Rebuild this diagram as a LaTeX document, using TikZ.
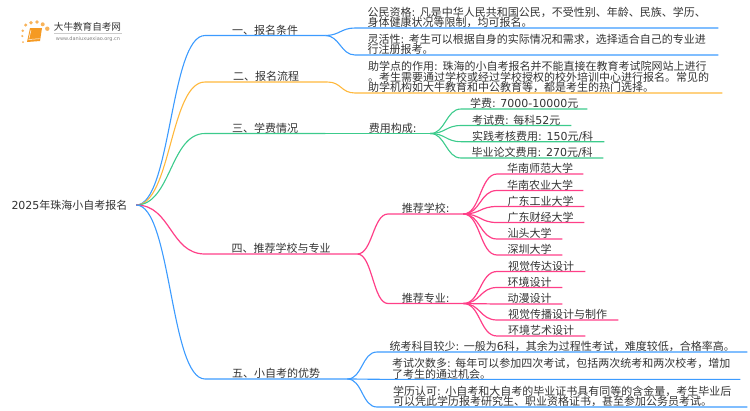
\documentclass[tikz,border=0pt]{standalone}
\usepackage{fontspec}
\setmainfont{Noto Sans CJK SC}
\newfontfamily\en{DejaVu Sans}
\definecolor{txt}{HTML}{333333}
\definecolor{lblue}{HTML}{3C9BFF}
\definecolor{lorange}{HTML}{FFB83C}
\definecolor{lgreen}{HTML}{3CCB8C}
\definecolor{lpink}{HTML}{FF3F88}
\definecolor{logoc}{HTML}{F59A23}
\tikzset{
  topic/.style={anchor=south west,inner xsep=0pt,inner ysep=1pt,text depth=0pt,text=txt,font=\fontsize{11}{10.8}\selectfont,align=left,minimum width=#1},
  link/.style={out=0,in=180,distance=#1},
  blueline/.style={draw=lblue,line width=1.1pt},
  orangeline/.style={draw=lorange,line width=1.1pt},
  greenline/.style={draw=lgreen,line width=1.1pt},
  pinkline/.style={draw=lpink,line width=1.2pt},
}
\begin{document}
\begin{tikzpicture}[x=1pt,y=-1pt]
\useasboundingbox (0,0) rectangle (750,410);
% logo
\foreach \x/\y/\r in {25.7/25/1.7,31/22.7/1.9,37/22/1.9,42.7/24.3/2,47.3/28.7/2.2,22.7/30.7/1.4,22.3/36/1.2,23/42/1}
  \fill[logoc!75] (\x,\y) circle [radius=\r];
\fill[logoc] (30,28) -- (42,28) -- (40,41) -- (27,42) -- cycle;
\draw[white,line width=0.5pt] (28.5,39.5) -- (39.5,38.7);
\draw[white,line width=0.5pt] (31,30) -- (29,38.5);
\node[inner sep=0pt,text=txt,font=\fontsize{9.6}{10}\selectfont] (logoname) at (87.5,27) {大牛教育自考网};
\node[inner sep=0pt,text=gray,font=\en\fontsize{5}{6}\selectfont] (logourl) at (88,39) {www.daniuxuexiao.org.cn};
\draw[gray!40,line width=0.4pt] (54,33.3) -- (122,33.3);
% root
\node[inner xsep=0pt,minimum width=133pt,text=txt,font=\fontsize{11}{13}\selectfont] (root) at (69.5,205) {{\en 2025}年珠海小自考报名};
% first level
\node[topic=120pt] (cond) at (205,35.5) {一、报名条件};
\node[topic=122pt] (flow) at (205,82) {二、报名流程};
\node[topic=120pt] (fee) at (205,133.5) {三、学费情况};
\node[topic=152pt] (rec) at (205,254) {四、推荐学校与专业};
\node[topic=142pt] (adv) at (205,379) {五、小自考的优势};
% conditions
\node[topic=363pt] (citizen) at (355,28) {公民资格{\en: }凡是中华人民共和国公民，不受性别、年龄、民族、学历、\\身体健康状况等限制，均可报名。};
\node[topic=363pt] (flex) at (355,55) {灵活性{\en: }考生可以根据自身的实际情况和需求，选择适合自己的专业进\\行注册报考。};
\node[topic=367pt] (help) at (355,93) {助学点的作用{\en: }珠海的小自考报名并不能直接在教育考试院网站上进行\\。考生需要通过学校或经过学校授权的校外培训中心进行报名。常见的\\助学机构如大牛教育和中公教育等，都是考生的热门选择。};
% fees
\node[topic=75pt] (cost) at (355,133.5) {费用构成{\en:}};
\node[topic=126pt] (cost1) at (461,109) {学费{\en: 7000-10000}元};
\node[topic=110pt] (cost2) at (461,125.5) {考试费{\en: }每科{\en 52}元};
\node[topic=143pt] (cost3) at (461,141.7) {实践考核费用{\en: 150}元{\en/}科};
\node[topic=142pt] (cost4) at (461,158) {毕业论文费用{\en: 270}元{\en/}科};
% schools and majors
\node[topic=75pt] (school) at (388,214) {推荐学校{\en:}};
\node[topic=75pt] (major) at (388,303.5) {推荐专业{\en:}};
\node[topic=86pt] (s1) at (497,174) {华南师范大学};
\node[topic=86pt] (s2) at (497,190.5) {华南农业大学};
\node[topic=87pt] (s3) at (497,206.5) {广东工业大学};
\node[topic=87pt] (s4) at (497,222.5) {广东财经大学};
\node[topic=65pt] (s5) at (497,239) {汕头大学};
\node[topic=65pt] (s6) at (497,255) {深圳大学};
\node[topic=88pt] (m1) at (497,271.5) {视觉传达设计};
\node[topic=65pt] (m2) at (497,287.5) {环境设计};
\node[topic=65pt] (m3) at (497,304) {动漫设计};
\node[topic=121pt] (m4) at (497,320) {视觉传播设计与制作};
\node[topic=88pt] (m5) at (497,336) {环境艺术设计};
% advantages
\node[topic=370pt] (few) at (377,352) {统考科目较少{\en: }一般为{\en 6}科，其余为过程性考试，难度较低，合格率高。};
\node[topic=358pt] (twice) at (382,379.3) {考试次数多{\en: }每年可以参加四次考试，包括两次统考和两次校考，增加\\了考生的通过机会。};
\node[topic=370pt] (degree) at (377,407) {学历认可{\en: }小自考和大自考的毕业证书具有同等的含金量，考生毕业后\\可以凭此学历报考研究生、职业资格证书，甚至参加公务员考试。};
% connectors
\draw[blueline] (root.east) to[link=35pt] (cond.south west) -- (cond.south east);
\draw[orangeline] (root.east) to[link=35pt] (flow.south west) -- (flow.south east);
\draw[greenline] (root.east) to[link=35pt] (fee.south west) -- (fee.south east);
\draw[pinkline] (root.east) to[link=35pt] (rec.south west) -- (rec.south east);
\draw[blueline] (root.east) to[link=35pt] (adv.south west) -- (adv.south east);
\foreach \a in {citizen,flex}
  \draw[blueline] (cond.south east) to[link=14pt] (\a.south west) -- (\a.south east);
\draw[orangeline] (flow.south east) to[link=14pt] (help.south west) -- (help.south east);
\draw[greenline] (fee.south east) -- (cost.south west) -- (cost.south east);
\foreach \a in {cost1,cost2,cost3,cost4}
  \draw[greenline] (cost.south east) to[link=15pt] (\a.south west) -- (\a.south east);
\foreach \a in {school,major}
  \draw[pinkline] (rec.south east) to[link=15pt] (\a.south west) -- (\a.south east);
\foreach \a in {s1,s2,s3,s4,s5,s6}
  \draw[pinkline] (school.south east) to[link=17pt] (\a.south west) -- (\a.south east);
\foreach \a in {m1,m2,m3,m4,m5}
  \draw[pinkline] (major.south east) to[link=17pt] (\a.south west) -- (\a.south east);
\foreach \a in {few,twice,degree}
  \draw[blueline] (adv.south east) to[link=15pt] (\a.south west) -- (\a.south east);
\end{tikzpicture}
\end{document}
